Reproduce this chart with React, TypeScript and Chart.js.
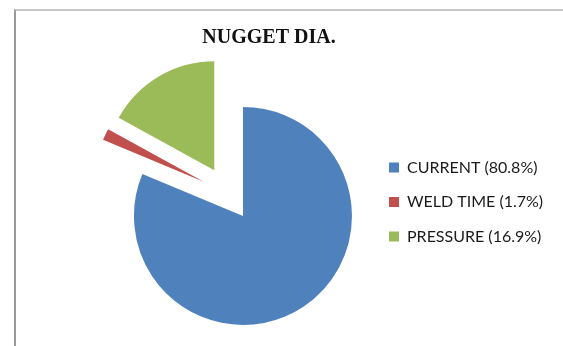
import React, { useEffect, useRef } from "react";
import { Chart, registerables } from "chart.js";

Chart.register(...registerables);

const TITLE = "NUGGET DIA.";
const CATEGORIES = ["CURRENT", "WELD TIME", "PRESSURE"];
const PERCENTS = [80.8, 1.7, 16.9];

const explodePlugin = {
  id: "explodeSlices",
  afterDatasetUpdate(chart: any, args: any, opts: any) {
    const meta = chart.getDatasetMeta(args.index);
    const d = (opts && opts.distance) || 0;
    meta.data.forEach((arc: any) => {
      const mid = (arc.startAngle + arc.endAngle) / 2;
      arc.x += Math.cos(mid) * d;
      arc.y += Math.sin(mid) * d;
    });
  },
};

// let the legend's clip box reach the canvas edge so long labels are not cut
const legendRoomPlugin = {
  id: "legendRoom",
  afterLayout(chart: any) {
    const lg = chart.legend;
    if (lg) {
      lg.right = chart.width;
      lg.width = lg.right - lg.left;
    }
  },
};

export default function App() {
  const ref = useRef<HTMLCanvasElement | null>(null);

  useEffect(() => {
    if (!ref.current) return;
    const chart = new Chart(ref.current, {
      type: "pie",
      data: {
        labels: CATEGORIES,
        datasets: [
          {
            data: PERCENTS,
            backgroundColor: ["#4F81BD", "#C0504D", "#9BBB59"],
            borderWidth: 0,
            radius: 109,
            clip: false,
          } as any,
        ],
      },
      plugins: [explodePlugin, legendRoomPlugin],
      options: {
        responsive: false,
        animation: false,
        events: [],
        layout: {
          padding: { left: 85.5, right: 110.5, top: 0, bottom: 83 },
        },
        plugins: {
          explodeSlices: { distance: 27 },
          tooltip: { enabled: false },
          title: {
            display: true,
            text: TITLE,
            color: "#111111",
            font: { family: "'Liberation Serif', 'Times New Roman', serif", size: 20, weight: "bold", lineHeight: 1.2 },
            padding: { top: 26, bottom: 74 },
          },
          legend: {
            position: "right",
            align: "end",
            maxWidth: 82,
            labels: {
              boxWidth: 10,
              boxHeight: 10,
              padding: 18.5,
              color: "#1a1a1a",
              font: { family: "Lato, 'Noto Sans', sans-serif", size: 16 },
              generateLabels: (c: any) => {
                const ds = c.data.datasets[0];
                return c.data.labels.map((lab: string, i: number) => ({
                  text: `${lab} (${PERCENTS[i].toFixed(1)}%)`,
                  fillStyle: ds.backgroundColor[i],
                  strokeStyle: ds.backgroundColor[i],
                  lineWidth: 0,
                  hidden: false,
                  index: i,
                  fontColor: "#1a1a1a",
                }));
              },
            },
          },
        },
      } as any,
    });
    return () => chart.destroy();
  }, []);

  return (
    <div style={{ position: "fixed", left: 0, top: 0, width: 563, height: 346, background: "#fff", overflow: "hidden" }}>
      <div
        style={{
          position: "absolute",
          left: 14,
          top: 9,
          width: 600,
          height: 400,
          borderLeft: "2px solid #9a9a9a",
          borderTop: "2px solid #c6c6c6",
        }}
      />
      <canvas ref={ref} width={563} height={346} style={{ position: "absolute", left: 0, top: 0, display: "block" }} />
    </div>
  );
}
